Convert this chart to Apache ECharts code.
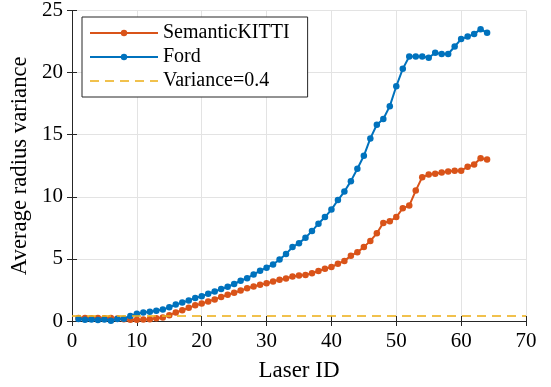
<!DOCTYPE html>
<html>
<head>
<meta charset="utf-8">
<script src="https://cdn.jsdelivr.net/npm/echarts@6/dist/echarts.min.js"></script>
<style>
  html, body { margin: 0; padding: 0; background: #fff; }
  #chart { width: 551px; height: 387px; }
</style>
</head>
<body>
<div id="chart"></div>
<script>
// laser ids 1..64
const laserIds = [];
for (let i = 1; i <= 64; i++) laserIds.push(i);

const kittiValues = [
  0.25, 0.25, 0.22, 0.25, 0.22, 0.25, 0.2, 0.15, 0.1, 0.1,
  0.12, 0.15, 0.22, 0.29, 0.47, 0.69, 0.87, 1.06, 1.26, 1.4,
  1.58, 1.74, 1.93, 2.11, 2.27, 2.45, 2.64, 2.78, 2.92, 3.03,
  3.19, 3.32, 3.43, 3.58, 3.66, 3.71, 3.84, 4.03, 4.21, 4.34,
  4.61, 4.84, 5.26, 5.53, 5.95, 6.45, 7.06, 7.9, 8.03, 8.37,
  9.08, 9.29, 10.5, 11.58, 11.79, 11.86, 11.95, 12.03, 12.1, 12.1,
  12.42, 12.6, 13.1, 13.0
];

const fordValues = [
  0.16, 0.1, 0.13, 0.08, 0.13, 0.03, 0.16, 0.18, 0.4, 0.58,
  0.69, 0.75, 0.82, 0.92, 1.1, 1.32, 1.48, 1.66, 1.85, 2.0,
  2.19, 2.37, 2.58, 2.76, 2.98, 3.24, 3.45, 3.74, 4.05, 4.29,
  4.55, 4.95, 5.4, 5.95, 6.27, 6.71, 7.24, 7.84, 8.37, 8.97,
  9.74, 10.42, 11.26, 12.26, 13.3, 14.7, 15.8, 16.26, 17.3, 18.9,
  20.3, 21.3, 21.3, 21.3, 21.2, 21.6, 21.5, 21.5, 22.1, 22.7,
  22.9, 23.1, 23.5, 23.2
];

const thresholdX = [0, 70];
const thresholdValue = 0.4;

const font = "Liberation Serif";
const chart = echarts.init(document.getElementById("chart"));

const pairs = (xs, ys) => xs.map((x, i) => [x, ys[i]]);

const mainX = {
  type: "value",
  min: 0,
  max: 70,
  interval: 10,
  name: "Laser ID",
  nameLocation: "middle",
  nameGap: 38,
  nameTextStyle: { fontFamily: font, fontSize: 23, color: "#000" },
  axisLine: { onZero: false, lineStyle: { color: "#262626", width: 1 } },
  axisTick: { inside: true, length: 5, lineStyle: { color: "#262626" } },
  axisLabel: { fontFamily: font, fontSize: 21, color: "#000", margin: 10 },
  splitLine: { show: true, lineStyle: { color: "#e3e3e3", width: 1 } }
};

const mainY = {
  type: "value",
  min: 0,
  max: 25,
  interval: 5,
  name: "Average radius variance",
  nameLocation: "middle",
  nameGap: 34,
  nameTextStyle: { fontFamily: font, fontSize: 22.7, color: "#000" },
  axisLine: { show: true, onZero: false, lineStyle: { color: "#262626", width: 1 } },
  axisTick: { show: true, inside: true, length: 5, lineStyle: { color: "#262626" } },
  axisLabel: { fontFamily: font, fontSize: 21, color: "#000", margin: 9 },
  splitLine: { show: true, lineStyle: { color: "#e3e3e3", width: 1 } }
};

const option = {
  animation: false,
  backgroundColor: "#fff",
  grid: { left: 72, right: 25, top: 6, bottom: 64 },
  legend: {
    left: 82,
    top: 17,
    orient: "vertical",
    padding: [6, 18, 6, 7],
    itemWidth: 68,
    itemHeight: 8,
    itemGap: 4,
    backgroundColor: "#fff",
    borderColor: "#262626",
    borderWidth: 1,
    borderRadius: 0,
    textStyle: { fontFamily: font, fontSize: 20, color: "#000" },
    data: [
      "SemanticKITTI",
      "Ford",
      { name: "Variance=0.4", itemStyle: { opacity: 0 } }
    ]
  },
  xAxis: [
    mainX,
    {
      type: "value", position: "top", min: 0, max: 70, interval: 10,
      axisLine: { show: true, lineStyle: { color: "#262626" } },
      axisTick: { show: true, inside: true, length: 5, lineStyle: { color: "#262626" } },
      axisLabel: { show: false }, splitLine: { show: false }
    }
  ],
  yAxis: [
    mainY,
    {
      type: "value", position: "right", min: 0, max: 25, interval: 5,
      axisLine: { show: true, lineStyle: { color: "#262626" } },
      axisTick: { show: true, inside: true, length: 5, lineStyle: { color: "#262626" } },
      axisLabel: { show: false }, splitLine: { show: false }
    }
  ],
  series: [
    {
      name: "SemanticKITTI",
      type: "line",
      data: pairs(laserIds, kittiValues),
      symbol: "circle",
      symbolSize: 6.5,
      color: "#D95319",
      lineStyle: { width: 2, color: "#D95319" },
      itemStyle: { color: "#D95319" },
      z: 3
    },
    {
      name: "Ford",
      type: "line",
      data: pairs(laserIds, fordValues),
      symbol: "circle",
      symbolSize: 6.5,
      color: "#0072BD",
      lineStyle: { width: 2, color: "#0072BD" },
      itemStyle: { color: "#0072BD" },
      z: 4
    },
    {
      name: "Variance=0.4",
      type: "line",
      data: thresholdX.map(x => [x, thresholdValue]),
      symbol: "none",
      color: "#EDB120",
      lineStyle: { width: 2, color: "#EDB120", type: [9, 6], opacity: 0.8 },
      itemStyle: { color: "#EDB120" },
      z: 5
    }
  ]
};

chart.setOption(option);
</script>
</body>
</html>
